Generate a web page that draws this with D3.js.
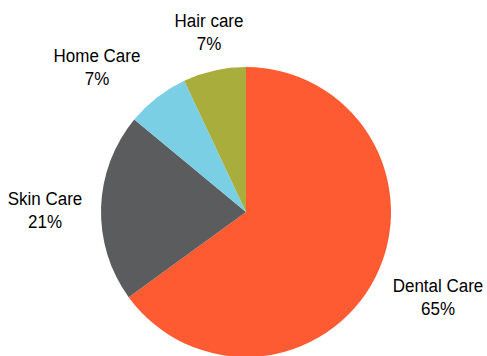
<!DOCTYPE html>
<html>
<head>
<meta charset="utf-8">
<script src="https://cdn.jsdelivr.net/npm/d3@7"></script>
<style>
  html, body { margin: 0; padding: 0; background: #fff; }
  svg { display: block; }
  text { font-family: "Liberation Sans", Arial, sans-serif; fill: #000; }
</style>
</head>
<body>
<svg id="chart" width="487" height="356"></svg>
<script>
// Segment shares of sales (%), clockwise from 12 o'clock
const categories = ["Dental Care", "Skin Care", "Home Care", "Hair care"];
const shares = [65, 21, 7, 7];
const colors = ["#FF5B33", "#5B5C5E", "#7BCFE5", "#A8AD3B"];
// Label anchor positions (centre x, first baseline y)
const labelPos = [[438, 292], [45, 205], [97, 62], [209, 27]];

const width = 487, height = 356;
const cx = 246, cy = 212, radius = 145;

const svg = d3.select("#chart");

const pie = d3.pie().sort(null).value(d => d.value);
const arc = d3.arc().innerRadius(0).outerRadius(radius);

const data = categories.map((c, i) => ({ name: c, value: shares[i], color: colors[i] }));
const arcs = pie(data);

const g = svg.append("g").attr("transform", `translate(${cx},${cy})`);
g.selectAll("path")
  .data(arcs)
  .join("path")
  .attr("d", arc)
  .attr("fill", d => d.data.color);

// Category labels with percentage underneath
const labels = svg.append("g");
arcs.forEach((a, i) => {
  const [x, y] = labelPos[i];
  const t = labels.append("g")
    .attr("transform", `translate(${x},${y}) scale(1,1.12)`);
  t.append("text")
    .attr("text-anchor", "middle")
    .attr("font-size", 17)
    .text(a.data.name);
  t.append("text")
    .attr("text-anchor", "middle")
    .attr("font-size", 17)
    .attr("y", 20.5)
    .text(a.data.value + "%");
});
</script>
</body>
</html>
